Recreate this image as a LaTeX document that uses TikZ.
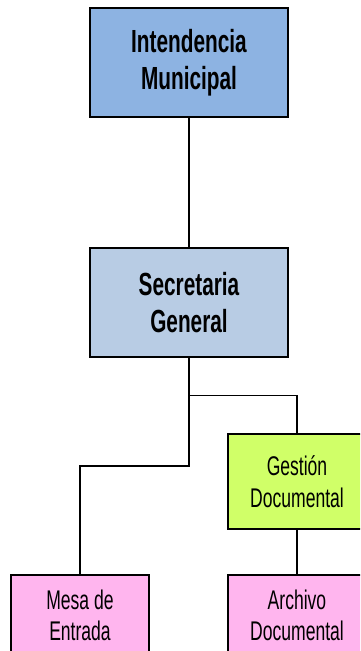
\documentclass[tikz,border=0pt]{standalone}
\usepackage{fontspec}
\setmainfont{Liberation Sans}[FakeStretch=0.65]
\definecolor{intendblue}{RGB}{141,179,226}
\definecolor{secreblue}{RGB}{184,204,228}
\definecolor{gestlime}{RGB}{208,255,104}
\definecolor{unitpink}{RGB}{255,181,238}

\begin{document}
\begin{tikzpicture}[x=1pt,y=1pt,node distance=240pt]
      \tikzstyle{head} = [rectangle, minimum width=198pt, minimum height=109pt, text centered, align=center, draw=black, line width=2.2pt, font=\bfseries\fontsize{32}{37}\selectfont]
      \tikzstyle{unit} = [rectangle, minimum width=138pt, minimum height=81pt, text centered, align=center, draw=black, line width=2.2pt, fill=unitpink, font=\fontsize{27}{31.5}\selectfont]
      \tikzstyle{link} = [line width=1.8pt]

      \useasboundingbox (0,0) rectangle (360,-651);
      \clip (0,0) rectangle (360,-651);

      \node (intend) [head, fill=intendblue] at (189,-62.5) {Intendencia\\Municipal};
      \node (secre) [head, fill=secreblue, below of=intend] {Secretaria\\General};
      \node (gest) [unit, fill=gestlime, minimum height=95pt] at (297,-481.5) {Gestión\\Documental};
      \node (mesa) [unit] at (80,-615.5) {Mesa de\\Entrada};
      \node (archivo) [unit, below of=gest, node distance=134pt] {Archivo\\Documental};

      \coordinate (split) at (189,-395.5);
      \coordinate (bend) at (189,-466);

      \draw [link] (intend.south) -- (secre.north);
      \draw [link] (secre.south) -- (split) -| (gest.north);
      \draw [link] (split) -- (bend) -| (mesa.north);
      \draw [link] (gest.south) -- (archivo.north);
   \end{tikzpicture}
\end{document}
